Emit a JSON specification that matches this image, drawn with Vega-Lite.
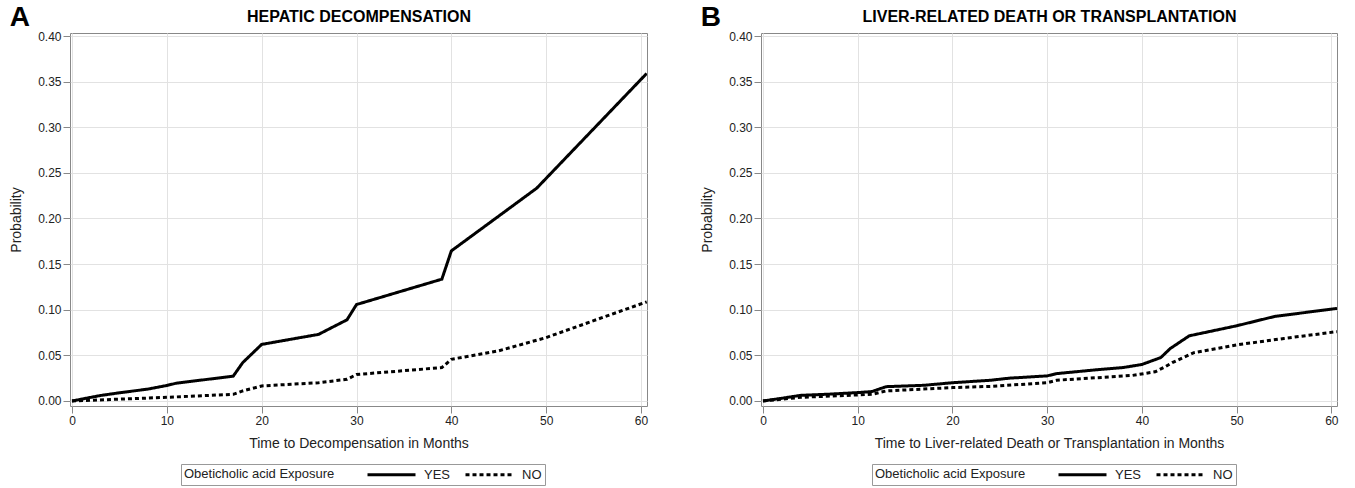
{
  "$schema": "https://vega.github.io/schema/vega-lite/v6.json",
  "padding": {"left": 9, "top": 3, "right": 3, "bottom": 0},
  "background": "white",
  "spacing": 50,
  "config": {
    "font": "Liberation Sans",
    "view": {"stroke": "#888888", "strokeWidth": 1},
    "axis": {
      "labelFont": "Liberation Sans", "titleFont": "Liberation Sans",
      "labelFontSize": 12, "titleFontSize": 14, "titleFontWeight": "normal",
      "labelColor": "#222222", "titleColor": "#222222",
      "tickColor": "#888888", "tickSize": 7, "domain": false,
      "gridColor": "#e2e2e2", "gridWidth": 1, "labelPadding": 2
    },
    "legend": {
      "orient": "none", "legendX": 111, "legendY": 431,
      "direction": "horizontal", "titleOrient": "left",
      "titleFontSize": 13, "titleFontWeight": "normal", "titleColor": "#222222",
      "titleFont": "Liberation Sans", "labelFont": "Liberation Sans",
      "titlePadding": 31, "labelFontSize": 13, "labelColor": "#222222",
      "symbolType": "M-1,0H7", "symbolSize": 144, "symbolStrokeWidth": 3,
      "symbolStrokeColor": "black", "symbolFillColor": "transparent",
      "strokeColor": "#999999", "fillColor": "white",
      "padding": 3, "columnPadding": 8, "labelOffset": 43
    },
    "title": {"font": "Liberation Sans"}
  },
  "datasets": {
    "A": [
      {"exposure": "YES", "t": 0, "p": 0},
      {"exposure": "YES", "t": 1, "p": 0.002},
      {"exposure": "YES", "t": 3, "p": 0.006},
      {"exposure": "YES", "t": 5, "p": 0.009},
      {"exposure": "YES", "t": 8, "p": 0.013},
      {"exposure": "YES", "t": 10, "p": 0.017},
      {"exposure": "YES", "t": 11, "p": 0.0195},
      {"exposure": "YES", "t": 17, "p": 0.0272},
      {"exposure": "YES", "t": 18, "p": 0.042},
      {"exposure": "YES", "t": 20, "p": 0.062},
      {"exposure": "YES", "t": 26, "p": 0.073},
      {"exposure": "YES", "t": 29, "p": 0.089},
      {"exposure": "YES", "t": 30, "p": 0.1057},
      {"exposure": "YES", "t": 39, "p": 0.1335},
      {"exposure": "YES", "t": 40, "p": 0.1645},
      {"exposure": "YES", "t": 49, "p": 0.2332},
      {"exposure": "YES", "t": 60.6, "p": 0.359},
      {"exposure": "NO", "t": 0, "p": 0},
      {"exposure": "NO", "t": 5, "p": 0.002},
      {"exposure": "NO", "t": 10, "p": 0.004},
      {"exposure": "NO", "t": 17, "p": 0.0073},
      {"exposure": "NO", "t": 18, "p": 0.011},
      {"exposure": "NO", "t": 20, "p": 0.0165},
      {"exposure": "NO", "t": 26, "p": 0.02},
      {"exposure": "NO", "t": 29, "p": 0.0238},
      {"exposure": "NO", "t": 30, "p": 0.029},
      {"exposure": "NO", "t": 39, "p": 0.0366},
      {"exposure": "NO", "t": 40, "p": 0.0457},
      {"exposure": "NO", "t": 45, "p": 0.055},
      {"exposure": "NO", "t": 50, "p": 0.0695},
      {"exposure": "NO", "t": 55, "p": 0.088},
      {"exposure": "NO", "t": 60.6, "p": 0.1086}
    ],
    "B": [
      {"exposure": "YES", "t": 0, "p": 0},
      {"exposure": "YES", "t": 2, "p": 0.003},
      {"exposure": "YES", "t": 4, "p": 0.0062},
      {"exposure": "YES", "t": 7, "p": 0.0075},
      {"exposure": "YES", "t": 10, "p": 0.0092},
      {"exposure": "YES", "t": 11.5, "p": 0.0103},
      {"exposure": "YES", "t": 13, "p": 0.0157},
      {"exposure": "YES", "t": 17, "p": 0.0172},
      {"exposure": "YES", "t": 20, "p": 0.02},
      {"exposure": "YES", "t": 24, "p": 0.0227},
      {"exposure": "YES", "t": 26, "p": 0.025},
      {"exposure": "YES", "t": 30, "p": 0.0275},
      {"exposure": "YES", "t": 31, "p": 0.03},
      {"exposure": "YES", "t": 35, "p": 0.034},
      {"exposure": "YES", "t": 38, "p": 0.0366},
      {"exposure": "YES", "t": 40, "p": 0.04},
      {"exposure": "YES", "t": 42, "p": 0.0476},
      {"exposure": "YES", "t": 43, "p": 0.0575},
      {"exposure": "YES", "t": 45, "p": 0.0714},
      {"exposure": "YES", "t": 50, "p": 0.0824},
      {"exposure": "YES", "t": 54, "p": 0.0926},
      {"exposure": "YES", "t": 60.6, "p": 0.1015},
      {"exposure": "NO", "t": 0, "p": 0},
      {"exposure": "NO", "t": 4, "p": 0.004},
      {"exposure": "NO", "t": 11.5, "p": 0.0073},
      {"exposure": "NO", "t": 13, "p": 0.011},
      {"exposure": "NO", "t": 20, "p": 0.0147},
      {"exposure": "NO", "t": 24, "p": 0.016},
      {"exposure": "NO", "t": 30, "p": 0.02},
      {"exposure": "NO", "t": 31, "p": 0.0227},
      {"exposure": "NO", "t": 39, "p": 0.028},
      {"exposure": "NO", "t": 41.4, "p": 0.032},
      {"exposure": "NO", "t": 42.3, "p": 0.0366},
      {"exposure": "NO", "t": 43.2, "p": 0.042},
      {"exposure": "NO", "t": 45.5, "p": 0.053},
      {"exposure": "NO", "t": 50, "p": 0.0615},
      {"exposure": "NO", "t": 55, "p": 0.0685},
      {"exposure": "NO", "t": 60.6, "p": 0.076}
    ]
  },
  "hconcat": [
    {
      "width": 577, "height": 373,
      "title": {"text": "A", "anchor": "start", "frame": "bounds", "fontSize": 28, "fontWeight": "bold", "color": "black", "offset": -24},
      "data": {"name": "A"},
      "resolve": {"axis": {"x": "independent"}},
      "layer": [
        {
          "mark": {"type": "line", "strokeWidth": 3, "color": "black", "clip": true, "strokeCap": "butt"},
          "encoding": {
            "x": {"field": "t", "type": "quantitative",
              "scale": {"domain": [-0.21, 60.63], "nice": false, "zero": false},
              "axis": {"title": "Time to Decompensation in Months", "values": [0, 10, 20, 30, 40, 50, 60], "titlePadding": 10}},
            "y": {"field": "p", "type": "quantitative",
              "scale": {"domain": [-0.0055, 0.4033], "nice": false, "zero": false},
              "axis": {"title": "Probability", "values": [0, 0.05, 0.1, 0.15, 0.2, 0.25, 0.3, 0.35, 0.4], "format": ".2f", "titlePadding": 14}},
            "strokeDash": {"field": "exposure", "type": "nominal",
              "scale": {"domain": ["YES", "NO"], "range": [[1, 0], [4, 3]]},
              "legend": {"title": "Obeticholic acid Exposure"}}
          }
        },
        {
          "mark": {"type": "point", "opacity": 0},
          "encoding": {
            "x": {"field": "t", "type": "quantitative",
              "axis": {"orient": "top", "title": "HEPATIC DECOMPENSATION", "labels": false, "ticks": false, "grid": false, "domain": false,
                "titleFontSize": 16, "titleFontWeight": "bold", "titleColor": "black", "titlePadding": 9}},
            "y": {"field": "p", "type": "quantitative"}
          }
        }
      ]
    },
    {
      "width": 576, "height": 373,
      "title": {"text": "B", "anchor": "start", "frame": "bounds", "fontSize": 28, "fontWeight": "bold", "color": "black", "offset": -24},
      "data": {"name": "B"},
      "resolve": {"axis": {"x": "independent"}},
      "layer": [
        {
          "mark": {"type": "line", "strokeWidth": 3, "color": "black", "clip": true, "strokeCap": "butt"},
          "encoding": {
            "x": {"field": "t", "type": "quantitative",
              "scale": {"domain": [-0.21, 60.6], "nice": false, "zero": false},
              "axis": {"title": "Time to Liver-related Death or Transplantation in Months", "values": [0, 10, 20, 30, 40, 50, 60], "titlePadding": 10}},
            "y": {"field": "p", "type": "quantitative",
              "scale": {"domain": [-0.0055, 0.4033], "nice": false, "zero": false},
              "axis": {"title": "Probability", "values": [0, 0.05, 0.1, 0.15, 0.2, 0.25, 0.3, 0.35, 0.4], "format": ".2f", "titlePadding": 14}},
            "strokeDash": {"field": "exposure", "type": "nominal",
              "scale": {"domain": ["YES", "NO"], "range": [[1, 0], [4, 3]]},
              "legend": {"title": "Obeticholic acid Exposure"}}
          }
        },
        {
          "mark": {"type": "point", "opacity": 0},
          "encoding": {
            "x": {"field": "t", "type": "quantitative",
              "axis": {"orient": "top", "title": "LIVER-RELATED DEATH OR TRANSPLANTATION", "labels": false, "ticks": false, "grid": false, "domain": false,
                "titleFontSize": 16, "titleFontWeight": "bold", "titleColor": "black", "titlePadding": 9}},
            "y": {"field": "p", "type": "quantitative"}
          }
        }
      ]
    }
  ],
  "resolve": {"scale": {"strokeDash": "independent"}, "legend": {"strokeDash": "independent"}}
}
